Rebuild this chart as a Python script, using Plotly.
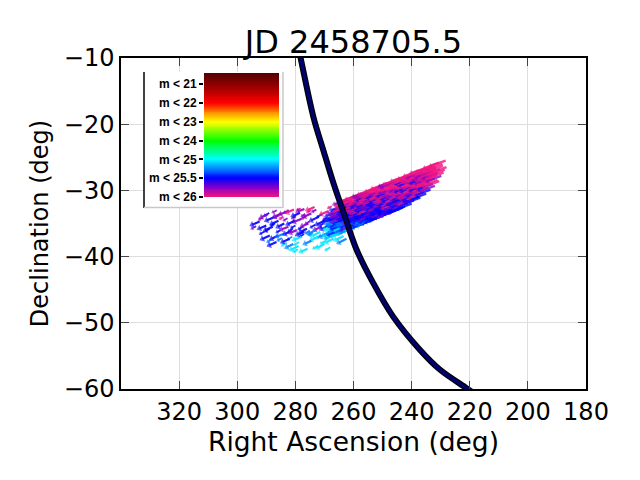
import numpy as np
import plotly.graph_objects as go
from plotly.colors import sample_colorscale

title_text = "JD 2458705.5"
x_title = "Right Ascension (deg)"
y_title = "Declination (deg)"
x_ticks = [320, 300, 280, 260, 240, 220, 200, 180]
y_ticks = [-60, -50, -40, -30, -20, -10]

# thick curve (RA, Dec)
curve_ra = [279.2, 278.2, 273.8, 270.4, 266.9, 262.9, 258.9, 253.2, 246.3, 237.1, 230.2, 221.0, 217.4]
curve_dec = [-8.0, -10.0, -18.9, -23.9, -28.9, -34.0, -39.0, -44.0, -49.1, -54.1, -57.1, -59.9, -61.0]

# magnitude colour key
cbar_labels = ["m < 21", "m < 22", "m < 23", "m < 24", "m < 25", "m < 25.5", "m < 26"]
cbar_mags = [21, 22, 23, 24, 25, 25.5, 26]
cbar_stop_pos = [-0.6, 0, 1, 1.5, 2, 3, 4, 5, 5.5, 6]
cbar_stop_col = ["#560000", "#8a0000", "#ff0000", "#ff8c00", "#ffff00", "#00ff00",
                 "#00ffff", "#0000ff", "#8a00c8", "#f01482"]

# dense band of arrows: tail RA/Dec, displacement, magnitude
band_ra = [228.3, 230.6, 232.8, 235.1, 237.2, 239.5, 241.7, 244.0, 246.1, 248.4, 250.6, 252.8, 255.1, 257.3, 259.5, 261.8,
           229.4, 231.7, 233.9, 236.2, 238.4, 240.6, 242.9, 245.1, 247.3, 249.6, 251.8, 254.0, 256.3, 258.5, 260.7,
           229.2, 231.5, 233.6, 235.9, 238.2, 240.4, 242.6, 244.9, 247.1, 249.3, 251.6, 253.8, 256.0, 258.2, 260.5, 262.7,
           228.0, 230.2, 232.4, 234.7, 236.9, 239.1, 241.4, 243.6, 245.8, 248.1, 250.3, 252.5, 254.8, 257.0, 259.2, 261.5, 263.6,
           228.6, 230.9, 233.1, 235.4, 237.6, 239.8, 242.1, 244.3, 246.5, 248.8, 251.0, 253.2, 255.5, 257.7, 259.9, 262.2, 264.3,
           229.0, 231.3, 233.5, 235.7, 238.0, 240.2, 242.4, 244.7, 246.9, 249.1, 251.4, 253.6, 255.8, 258.1, 260.3, 262.5, 264.8,
           229.8, 232.0, 234.3, 236.5, 238.7, 241.0, 243.2, 245.4, 247.7, 249.9, 252.1, 254.4, 256.6, 258.8, 261.1, 263.3, 265.4,
           231.1, 233.4, 235.6, 237.8, 240.1, 242.3, 244.5, 246.8, 249.0, 251.2, 253.5, 255.7, 257.9, 260.2, 262.4, 264.6,
           230.5, 232.7, 235.0, 237.3, 239.5, 241.7, 244.0, 246.2, 248.4, 250.7, 252.9, 255.1, 257.4, 259.6, 261.9, 264.0,
           232.0, 234.2, 236.5, 238.7, 240.9, 243.2, 245.4, 247.6, 249.9, 252.1, 254.3, 256.6, 258.8, 261.0, 263.3, 265.5,
           233.5, 235.8, 238.0, 240.3, 242.5, 244.8, 247.0, 249.2, 251.5, 253.7, 255.9, 258.2, 260.4, 262.6, 264.8,
           235.0, 237.3, 239.5, 241.7, 244.0, 246.2, 248.4, 250.7, 252.9, 255.1, 257.4, 259.6, 261.8, 264.1,
           237.0, 239.2, 241.5, 243.7, 246.0, 248.2, 250.4, 252.7, 254.9, 257.1, 259.4, 261.6, 263.8, 266.0,
           240.0, 242.3, 244.5, 246.8, 249.0, 251.2, 253.5, 255.7, 257.9, 260.2, 262.4, 264.7,
           243.0, 245.3, 247.5, 249.8, 252.0, 254.2, 256.5, 258.7, 260.9, 263.2, 265.4]
band_dec = [-25.5, -25.8, -26.3, -26.6, -27.0, -27.5, -27.8, -28.2, -28.6, -28.9, -29.4, -29.7, -30.2, -30.5, -30.9, -31.3,
            -26.0, -26.4, -26.8, -27.2, -27.6, -27.9, -28.4, -28.7, -29.1, -29.5, -29.9, -30.3, -30.7, -31.1, -31.5,
            -26.3, -26.7, -27.1, -27.5, -27.9, -28.2, -28.7, -29.0, -29.5, -29.8, -30.2, -30.6, -31.0, -31.4, -31.8, -32.2,
            -26.5, -26.8, -27.2, -27.6, -28.0, -28.4, -28.8, -29.2, -29.6, -30.0, -30.3, -30.7, -31.1, -31.5, -31.9, -32.3, -32.7,
            -26.9, -27.3, -27.7, -28.1, -28.5, -28.9, -29.3, -29.6, -30.0, -30.5, -30.8, -31.2, -31.6, -32.0, -32.4, -32.8, -33.1,
            -27.3, -27.7, -28.1, -28.5, -28.9, -29.3, -29.7, -30.1, -30.5, -30.8, -31.2, -31.6, -32.0, -32.4, -32.8, -33.2, -33.6,
            -27.8, -28.2, -28.6, -29.0, -29.4, -29.8, -30.2, -30.5, -31.0, -31.3, -31.7, -32.1, -32.5, -32.9, -33.3, -33.7, -34.0,
            -28.4, -28.8, -29.2, -29.6, -30.0, -30.4, -30.7, -31.1, -31.5, -31.9, -32.3, -32.7, -33.1, -33.5, -33.9, -34.3,
            -28.6, -29.0, -29.4, -29.8, -30.2, -30.6, -31.0, -31.4, -31.8, -32.2, -32.6, -32.9, -33.4, -33.7, -34.1, -34.5,
            -29.3, -29.6, -30.0, -30.4, -30.8, -31.2, -31.6, -32.0, -32.4, -32.8, -33.2, -33.6, -33.9, -34.3, -34.7, -35.1,
            -29.9, -30.3, -30.6, -31.0, -31.4, -31.8, -32.2, -32.6, -33.0, -33.4, -33.8, -34.2, -34.6, -35.0, -35.3,
            -30.5, -30.9, -31.3, -31.6, -32.0, -32.4, -32.8, -33.2, -33.6, -34.0, -34.4, -34.8, -35.2, -35.6,
            -31.1, -31.5, -31.9, -32.3, -32.7, -33.1, -33.5, -33.9, -34.3, -34.7, -35.1, -35.5, -35.9, -36.2,
            -32.0, -32.4, -32.8, -33.2, -33.6, -34.0, -34.4, -34.8, -35.2, -35.6, -36.0, -36.4,
            -32.6, -33.0, -33.4, -33.8, -34.2, -34.6, -35.0, -35.4, -35.8, -36.2, -36.5]
band_mag = [26, 26, 26, 26, 26, 26, 26, 26, 25.75, 26, 26, 26, 25.75, 26, 26, 25.75,
            26, 26, 26, 25.75, 26, 26, 26, 25.75, 26, 26, 26, 25.75, 26, 26, 26,
            26, 26, 25.75, 26, 26, 25.5, 26, 26, 26, 25.75, 26, 25.5, 26, 25.75, 26, 25.5,
            26, 26, 26, 25.75, 26, 25.5, 26, 26, 25.75, 26, 25.5, 26, 25.75, 26, 25.5, 26, 25.75,
            26, 25.75, 26, 25.5, 26, 26, 25.75, 26, 25.5, 26, 25.75, 26, 25.5, 26, 25.5, 25.75, 25.5,
            26, 26, 25.75, 26, 26, 25.5, 26, 25.75, 26, 25.5, 26, 25.5, 25.75, 26, 25.5, 25.75, 25.5,
            25.75, 26, 26, 26, 25.5, 26, 25.75, 25.5, 26, 25.5, 25.75, 25.5, 26, 25.5, 25.75, 25.5, 25.5,
            26, 26, 25.5, 26, 25.75, 26, 25.5, 26, 25.5, 25.75, 25.5, 26, 25.5, 25.5, 25.75, 25.25,
            26, 25.5, 26, 25.75, 26, 25.5, 26, 25.5, 25.75, 25.5, 26, 25.5, 25.75, 25.5, 25.5, 25.25,
            25.75, 26, 25.5, 26, 25.5, 25.5, 26, 25.5, 25.75, 25.5, 25.5, 25.5, 25.75, 25.25, 25.5, 25.05,
            25.5, 26, 25.5, 25.75, 25.5, 26, 25.5, 25.5, 25.75, 25.5, 25.5, 25.75, 25.25, 25.5, 25.05,
            25.5, 25.5, 26, 25.5, 25.75, 25.5, 25.5, 25.5, 25.75, 25.5, 25.25, 25.5, 25.05, 25.25,
            25.5, 25.5, 25.75, 25.5, 25.5, 25.75, 25.5, 25.5, 25.25, 25.5, 25.75, 25.25, 25.5, 25.05,
            25.5, 25.5, 25.5, 25.75, 25.5, 25.5, 25.25, 25.5, 25.05, 25.25, 25.05, 25.05,
            25.5, 25.5, 25.75, 25.5, 25.5, 25.25, 25.5, 25.05, 25.25, 25.05, 25.25]
band_dra = [5.2, 5.0, 5.4, 5.1, 5.3, 4.9, 5.2, 5.5, 5.0, 5.2, 5.1, 5.4, 5.0, 5.2, 5.3, 4.9,
            5.1, 5.3, 5.0, 5.4, 5.2, 5.1, 4.9, 5.3, 5.2, 5.0, 5.4, 5.1, 5.2, 4.9, 5.3,
            5.1, 5.3, 5.0, 5.4, 5.2, 5.1, 4.9, 5.3, 5.2, 5.0, 5.4, 5.1, 5.2, 4.9, 5.3, 5.1,
            5.3, 5.1, 5.2, 5.0, 5.4, 5.2, 5.1, 4.9, 5.3, 5.2, 5.0, 5.4, 5.1, 5.2, 5.0, 5.3, 5.1,
            5.3, 5.1, 5.2, 5.0, 5.4, 5.2, 5.1, 4.9, 5.3, 5.2, 5.0, 5.4, 5.1, 5.2, 5.0, 5.3, 5.1,
            5.0, 5.2, 5.3, 5.1, 4.9, 5.4, 5.2, 5.0, 5.1, 5.3, 5.2, 5.0, 5.1, 5.4, 4.9, 5.2, 5.0,
            5.0, 5.2, 5.3, 5.1, 4.9, 5.4, 5.2, 5.0, 5.1, 5.3, 5.2, 5.0, 5.1, 5.4, 4.9, 5.2, 5.0,
            5.2, 5.1, 4.9, 5.3, 5.2, 5.0, 5.4, 5.1, 5.2, 4.9, 5.3, 5.1, 5.0, 5.2, 5.1, 4.8,
            5.2, 5.1, 4.9, 5.3, 5.2, 5.0, 5.4, 5.1, 5.2, 4.9, 5.3, 5.1, 5.0, 5.2, 5.1, 4.8,
            5.1, 5.3, 5.0, 5.2, 5.1, 5.4, 4.9, 5.2, 5.1, 5.0, 5.3, 5.1, 4.9, 5.0, 4.8, 4.6,
            5.1, 5.3, 5.0, 5.2, 5.1, 5.4, 4.9, 5.2, 5.1, 5.0, 5.3, 5.1, 4.9, 5.0, 4.6,
            5.0, 5.2, 5.1, 4.9, 5.3, 5.1, 5.0, 5.2, 4.8, 5.1, 5.0, 4.7, 4.9, 4.5,
            5.0, 5.2, 5.1, 4.9, 5.3, 5.1, 5.0, 5.2, 4.8, 5.1, 5.0, 4.7, 4.9, 4.4,
            4.9, 5.1, 5.0, 4.8, 5.1, 4.7, 4.9, 4.5, 4.6, 4.4, 4.3, 4.2,
            4.9, 5.1, 5.0, 4.8, 5.1, 4.7, 4.9, 4.5, 4.6, 4.4, 4.2]
band_ddec = [-0.80, -0.85, -0.90, -0.80, -0.85, -0.75, -0.80, -0.90, -0.80, -0.85, -0.80, -0.90, -0.75, -0.85, -0.80, -0.80,
             -0.85, -0.80, -0.90, -0.85, -0.80, -0.80, -0.75, -0.85, -0.80, -0.85, -0.90, -0.80, -0.85, -0.75, -0.85,
             -0.85, -0.80, -0.90, -0.85, -0.80, -0.80, -0.75, -0.85, -0.80, -0.85, -0.90, -0.80, -0.85, -0.75, -0.85, -0.80,
             -0.90, -0.80, -0.85, -0.80, -0.90, -0.85, -0.80, -0.75, -0.85, -0.80, -0.80, -0.90, -0.85, -0.80, -0.80, -0.85, -0.80,
             -0.90, -0.80, -0.85, -0.80, -0.90, -0.85, -0.80, -0.75, -0.85, -0.80, -0.80, -0.90, -0.85, -0.80, -0.80, -0.85, -0.80,
             -0.80, -0.85, -0.90, -0.80, -0.75, -0.90, -0.85, -0.80, -0.80, -0.85, -0.85, -0.80, -0.80, -0.90, -0.80, -0.85, -0.80,
             -0.80, -0.85, -0.90, -0.80, -0.75, -0.90, -0.85, -0.80, -0.80, -0.85, -0.85, -0.80, -0.80, -0.90, -0.80, -0.85, -0.80,
             -0.85, -0.80, -0.80, -0.90, -0.85, -0.80, -0.90, -0.80, -0.85, -0.75, -0.85, -0.80, -0.80, -0.85, -0.85, -0.80,
             -0.85, -0.80, -0.80, -0.90, -0.85, -0.80, -0.90, -0.80, -0.85, -0.75, -0.85, -0.80, -0.80, -0.85, -0.85, -0.80,
             -0.80, -0.90, -0.80, -0.85, -0.80, -0.90, -0.75, -0.85, -0.80, -0.80, -0.85, -0.80, -0.80, -0.85, -0.80, -0.75,
             -0.80, -0.90, -0.80, -0.85, -0.80, -0.90, -0.75, -0.85, -0.80, -0.80, -0.85, -0.80, -0.80, -0.85, -0.75,
             -0.80, -0.85, -0.80, -0.80, -0.90, -0.80, -0.80, -0.85, -0.80, -0.80, -0.85, -0.80, -0.80, -0.75,
             -0.80, -0.85, -0.80, -0.80, -0.90, -0.80, -0.80, -0.85, -0.80, -0.80, -0.85, -0.80, -0.80, -0.75,
             -0.80, -0.85, -0.80, -0.80, -0.85, -0.80, -0.80, -0.80, -0.80, -0.80, -0.75, -0.75,
             -0.80, -0.85, -0.80, -0.80, -0.85, -0.80, -0.80, -0.80, -0.80, -0.80, -0.75]

# sparse field of arrows
field_ra = [292.3, 290.0, 287.2, 287.8, 285.8, 288.8, 285.8, 283.8, 283.8, 282.4, 278.9, 280.7, 277.9, 276.9, 275.5, 277.9,
            280.3, 274.5, 272.0, 271.0, 272.0, 274.5, 270.0, 268.6, 276.9, 273.4, 270.0, 281.3, 284.8, 266.0, 264.8, 267.6,
            263.4, 266.9, 262.4, 269.0, 275.8, 279.5, 282.0, 286.5, 289.5, 278.5, 271.5, 268.5, 273.0, 276.0, 283.0, 280.5]
field_dec = [-34.7, -35.3, -34.0, -35.5, -34.6, -36.8, -36.8, -36.5, -35.0, -35.5, -38.4, -38.1, -37.0, -36.2, -35.0, -34.3,
             -34.6, -33.5, -34.0, -35.5, -37.0, -37.6, -38.1, -33.1, -32.8, -32.5, -34.6, -36.1, -33.5, -34.6, -35.5, -36.1,
             -36.9, -37.3, -37.3, -36.5, -38.8, -36.0, -37.3, -37.8, -33.6, -33.4, -36.3, -35.3, -36.0, -35.8, -33.2, -32.9]
field_mag = [25.5, 25.5, 25.5, 25.5, 25.5, 25.5, 25.5, 25.25, 25.5, 25.75, 25.05, 25.25, 25.05, 25.5, 25.75, 25.75,
             25.5, 25.75, 25.5, 25.75, 25.05, 25.25, 25.05, 26, 25.75, 26, 25.5, 25.5, 25.75, 25.05, 25.25, 25.05,
             25.05, 25.05, 25.25, 25.25, 25.05, 25.75, 25.5, 25.5, 25.75, 25.5, 25.05, 25.5, 25.25, 25.5, 25.75, 26]
field_dra = [2.6, 2.4, 2.7, 2.5, 2.3, 2.6, 2.4, 2.5, 2.2, 2.4, 2.6, 2.3, 2.5, 2.4, 2.2, 2.5,
             2.3, 2.4, 2.6, 2.3, 2.5, 2.2, 2.4, 2.5, 2.2, 2.4, 2.6, 2.3, 2.4, 2.8, 2.6, 2.7,
             2.8, 2.5, 2.7, 2.4, 2.3, 2.2, 2.4, 2.5, 2.2, 2.3, 2.6, 2.5, 2.3, 2.2, 2.1, 2.3]
field_ddec = [-0.50, -0.45, -0.55, -0.50, -0.45, -0.55, -0.50, -0.45, -0.50, -0.40, -0.55, -0.50, -0.45, -0.50, -0.40, -0.45,
              -0.50, -0.45, -0.55, -0.45, -0.50, -0.45, -0.55, -0.50, -0.40, -0.45, -0.55, -0.50, -0.45, -0.60, -0.55, -0.60,
              -0.60, -0.55, -0.60, -0.50, -0.45, -0.40, -0.50, -0.50, -0.45, -0.45, -0.55, -0.55, -0.50, -0.45, -0.40, -0.45]

# tiny specks in the sparse field
speck_ra = [293.5, 291.2, 289.0, 286.4, 284.1, 282.2, 280.0, 278.2, 276.3, 274.6, 272.8, 270.9, 269.1, 267.5,
            290.6, 288.2, 285.1, 283.0, 281.1, 279.1, 277.0, 275.1, 273.2, 271.3, 269.6,
            287.0, 284.6, 282.7, 280.9, 278.7, 276.6, 274.0, 272.3, 270.3, 268.0,
            279.8, 277.5, 275.0, 285.7, 288.9]
speck_dec = [-35.4, -34.1, -33.4, -33.0, -34.0, -33.0, -35.3, -32.7, -33.9, -33.0, -32.9, -33.6, -34.1, -32.4,
             -36.2, -37.4, -36.0, -37.9, -37.0, -38.9, -36.6, -34.7, -35.2, -36.8, -37.6,
             -35.0, -37.2, -34.2, -35.8, -37.8, -33.6, -36.4, -38.4, -35.0, -38.6,
             -33.9, -35.5, -36.1, -33.8, -35.8]
speck_mag = [25.75, 25.75, 25.5, 25.75, 26, 25.75, 25.5, 26, 25.75, 26, 25.75, 25.5, 25.75, 26,
             25.5, 25.25, 25.5, 25.05, 25.25, 25.05, 25.5, 25.75, 25.5, 25.05, 25.05,
             25.5, 25.25, 25.75, 25.5, 25.05, 25.75, 25.25, 25.05, 25.5, 25.05,
             25.75, 25.5, 25.25, 25.75, 25.5]
speck_dra = [1.4, 1.2, 1.5, 1.3, 1.2, 1.4, 1.3, 1.1, 1.4, 1.2, 1.3, 1.5, 1.2, 1.1,
             1.4, 1.3, 1.2, 1.5, 1.3, 1.4, 1.2, 1.3, 1.4, 1.2, 1.5,
             1.3, 1.4, 1.2, 1.3, 1.5, 1.1, 1.3, 1.4, 1.2, 1.5,
             1.2, 1.3, 1.4, 1.2, 1.3]
speck_ddec = [-0.35, -0.30, -0.40, -0.30, -0.30, -0.35, -0.35, -0.25, -0.35, -0.30, -0.30, -0.40, -0.30, -0.25,
              -0.35, -0.35, -0.30, -0.40, -0.35, -0.35, -0.30, -0.30, -0.35, -0.30, -0.40,
              -0.30, -0.35, -0.30, -0.35, -0.40, -0.25, -0.35, -0.35, -0.30, -0.40,
              -0.30, -0.35, -0.35, -0.30, -0.35]

FONT = "DejaVu Sans"

# colourscale normalised over the key's index range
lo, hi = cbar_stop_pos[0], cbar_stop_pos[-1]
colorscale = [[(p - lo) / (hi - lo), c] for p, c in zip(cbar_stop_pos, cbar_stop_col)]
key_index = list(range(len(cbar_mags)))


def mag_color(m):
    idx = float(np.interp(m, cbar_mags, key_index))
    return sample_colorscale(colorscale, [(idx - lo) / (hi - lo)])[0]


fig = go.Figure()


def add_arrows(ra, dec, dra, ddec, mag, width, head, opacity, reverse=False):
    order = list(range(len(ra)))
    if reverse:
        order = order[::-1]
    for i in order:
        c = mag_color(mag[i])
        fig.add_trace(go.Scatter(
            x=[ra[i], ra[i] + dra[i]], y=[dec[i], dec[i] + ddec[i]],
            mode="lines+markers", line=dict(color=c, width=width),
            marker=dict(symbol="triangle-up", size=[0, head], color=c,
                        angleref="previous", line=dict(width=0)),
            opacity=opacity, hoverinfo="skip", showlegend=False))


add_arrows(speck_ra, speck_dec, speck_dra, speck_ddec, speck_mag, 1.8, 4, 0.9)
add_arrows(field_ra, field_dec, field_dra, field_ddec, field_mag, 2.2, 6, 0.9)
add_arrows(band_ra, band_dec, band_dra, band_ddec, band_mag, 2.4, 5, 0.8, reverse=True)

# curve: black outline + navy core
fig.add_trace(go.Scatter(x=curve_ra, y=curve_dec, mode="lines",
                         line=dict(color="black", width=6, shape="spline", smoothing=1.0),
                         hoverinfo="skip", showlegend=False))
fig.add_trace(go.Scatter(x=curve_ra, y=curve_dec, mode="lines",
                         line=dict(color="#00006e", width=3.5, shape="spline", smoothing=1.0),
                         hoverinfo="skip", showlegend=False))

# white key box (covers grid)
fig.add_trace(go.Scatter(x=[0, 1, 1, 0, 0], y=[0, 0, 1, 1, 0], mode="lines", fill="toself",
                         fillcolor="white", line=dict(width=0), xaxis="x2", yaxis="y2",
                         hoverinfo="skip", showlegend=False))

# colour key bar
edges = np.arange(lo, hi + 1e-9, 0.05)
mids = (edges[:-1] + edges[1:]) / 2
fig.add_trace(go.Heatmap(x=[0, 1], y=edges, z=mids.reshape(-1, 1), colorscale=colorscale,
                         zmin=lo, zmax=hi, showscale=False, hoverinfo="skip",
                         xaxis="x3", yaxis="y3"))

L, R, T, B = 121, 54, 58, 91
W, H = 640, 480
pw, ph = W - L - R, H - T - B


def px_x(p):
    return (p - L) / pw


def px_y(p):
    return (H - B - p) / ph


axis_common = dict(showline=True, linecolor="black", linewidth=1.5, mirror="ticks",
                   ticks="inside", ticklen=8, tickcolor="#444", tickwidth=1,
                   showgrid=True, gridcolor="#dedede", gridwidth=1, zeroline=False,
                   tickfont=dict(family=FONT, size=24, color="black"))

fig.update_layout(
    width=W, height=H, margin=dict(l=L, r=R, t=T, b=B),
    paper_bgcolor="white", plot_bgcolor="white",
    title=dict(text=title_text, x=353.5 / W, xanchor="center",
               y=1 - 42 / H, yanchor="middle", yref="container",
               font=dict(family=FONT, size=32, color="black")),
    xaxis=dict(range=[340, 180], tickvals=x_ticks, **axis_common,
               title=dict(text=x_title, font=dict(family=FONT, size=26.5, color="black"), standoff=0)),
    yaxis=dict(range=[-60, -10], tickvals=y_ticks, **axis_common,
               title=dict(text=y_title, font=dict(family=FONT, size=24, color="black"), standoff=8)),
    xaxis2=dict(domain=[px_x(144), px_x(283)], range=[0, 1], visible=False, anchor="y2"),
    yaxis2=dict(domain=[px_y(207), px_y(72)], range=[0, 1], visible=False, anchor="x2"),
    xaxis3=dict(domain=[px_x(204), px_x(279)], range=[0, 1], visible=False, anchor="y3"),
    yaxis3=dict(domain=[px_y(197), px_y(73)], range=[hi, lo], anchor="x3",
                tickvals=key_index, ticktext=cbar_labels, ticks="outside", ticklen=4,
                tickwidth=2, tickcolor="black", showgrid=False, zeroline=False, showline=False,
                tickfont=dict(family="Liberation Sans", size=12, color="black", weight="bold")),
    shapes=[
        dict(type="line", xref="paper", yref="paper", x0=px_x(144), x1=px_x(144),
             y0=px_y(208), y1=px_y(72), line=dict(color="black", width=1.5), layer="above"),
        dict(type="line", xref="paper", yref="paper", x0=px_x(283), x1=px_x(283),
             y0=px_y(208), y1=px_y(72), line=dict(color="#c8c8c8", width=1.5), layer="above"),
        dict(type="line", xref="paper", yref="paper", x0=px_x(144), x1=px_x(283),
             y0=px_y(207.5), y1=px_y(207.5), line=dict(color="#c8c8c8", width=1.5), layer="above"),
    ],
)

fig.write_html("out.html")
